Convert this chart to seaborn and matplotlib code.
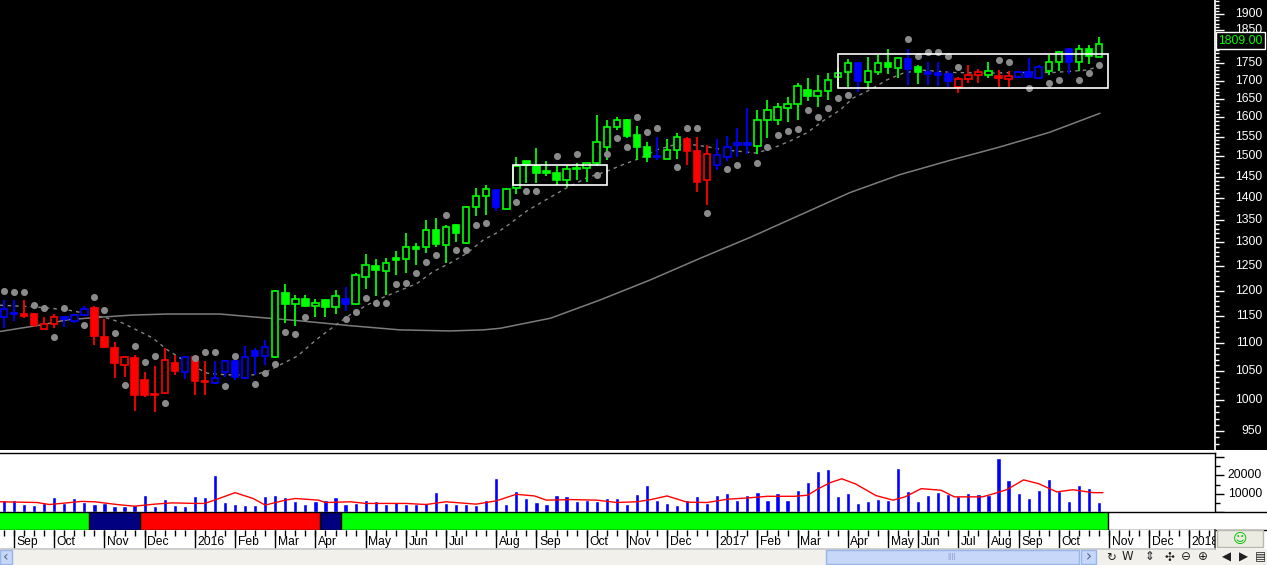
import matplotlib
matplotlib.use("Agg")
import matplotlib.pyplot as plt
import matplotlib.transforms as mtransforms
from matplotlib.patches import Rectangle
from matplotlib.ticker import FixedLocator, NullFormatter
import numpy as np
import seaborn as sns

sns.set_theme(style="white")
plt.rcParams["font.family"] = ["Liberation Sans", "DejaVu Sans"]

# weekly bars, oldest first
opens = [1149, 1154, 1155, 1154, 1125, 1135, 1148, 1141, 1152, 1165,
         1111, 1090, 1060, 1073, 1035, 1010, 1012, 1064, 1048, 1075,
         1033, 1029, 1048, 1068, 1037, 1086, 1076, 1075, 1196, 1173,
         1184, 1170, 1182, 1167, 1183, 1173, 1228, 1250, 1240, 1266,
         1264, 1290, 1289, 1327, 1295, 1339, 1299, 1379, 1403, 1419,
         1374, 1423, 1488, 1476, 1463, 1460, 1441, 1468, 1472, 1483,
         1524, 1574, 1594, 1555, 1522, 1499, 1494, 1516, 1543, 1512,
         1441, 1478, 1498, 1528, 1533, 1526, 1594, 1592, 1624, 1635,
         1675, 1659, 1673, 1710, 1725, 1751, 1696, 1725, 1751, 1736,
         1762, 1739, 1725, 1722, 1720, 1684, 1705, 1717, 1717, 1715,
         1706, 1712, 1725, 1708, 1729, 1755, 1793, 1753, 1793, 1770]
highs = [1182, 1181, 1181, 1156, 1148, 1154, 1149, 1155, 1169, 1169,
         1144, 1102, 1076, 1078, 1048, 1059, 1090, 1078, 1077, 1076,
         1067, 1068, 1069, 1069, 1095, 1091, 1106, 1201, 1213, 1192,
         1192, 1183, 1183, 1202, 1207, 1235, 1275, 1264, 1266, 1281,
         1320, 1299, 1350, 1354, 1339, 1341, 1381, 1423, 1431, 1419,
         1423, 1497, 1488, 1520, 1488, 1475, 1479, 1483, 1483, 1606,
         1594, 1601, 1597, 1577, 1537, 1548, 1543, 1560, 1548, 1548,
         1528, 1543, 1551, 1571, 1624, 1621, 1647, 1638, 1655, 1694,
         1708, 1717, 1722, 1736, 1762, 1752, 1770, 1775, 1793, 1768,
         1793, 1746, 1755, 1755, 1727, 1712, 1746, 1733, 1755, 1731,
         1727, 1727, 1765, 1746, 1775, 1788, 1793, 1805, 1805, 1830]
lows = [1127, 1140, 1146, 1130, 1125, 1127, 1130, 1137, 1150, 1096,
        1090, 1038, 1040, 982, 1006, 981, 1010, 1043, 1036, 1009,
        1009, 1027, 1040, 1035, 1036, 1043, 1061, 1073, 1137, 1132,
        1167, 1149, 1149, 1155, 1160, 1171, 1204, 1190, 1192, 1231,
        1235, 1252, 1277, 1290, 1256, 1301, 1297, 1358, 1361, 1370,
        1371, 1409, 1435, 1435, 1451, 1431, 1426, 1443, 1436, 1476,
        1490, 1567, 1545, 1491, 1486, 1491, 1494, 1494, 1479, 1413,
        1383, 1467, 1489, 1497, 1506, 1506, 1545, 1580, 1588, 1594,
        1643, 1627, 1647, 1680, 1684, 1668, 1677, 1717, 1719, 1708,
        1689, 1691, 1689, 1686, 1684, 1666, 1695, 1695, 1708, 1684,
        1683, 1711, 1708, 1708, 1717, 1727, 1720, 1727, 1749, 1768]
closes = [1163, 1155, 1151, 1134, 1135, 1148, 1144, 1152, 1163, 1112,
          1092, 1064, 1075, 1008, 1009, 1008, 1069, 1049, 1074, 1032,
          1030, 1037, 1068, 1039, 1074, 1077, 1092, 1199, 1173, 1184,
          1170, 1176, 1168, 1190, 1174, 1231, 1252, 1242, 1256, 1262,
          1289, 1286, 1327, 1297, 1333, 1321, 1379, 1403, 1421, 1379,
          1421, 1476, 1479, 1460, 1459, 1443, 1469, 1470, 1483, 1535,
          1574, 1594, 1552, 1524, 1498, 1497, 1516, 1548, 1514, 1437,
          1506, 1504, 1524, 1533, 1528, 1594, 1621, 1627, 1635, 1686,
          1659, 1672, 1703, 1722, 1751, 1701, 1727, 1752, 1739, 1765,
          1733, 1725, 1720, 1717, 1701, 1705, 1717, 1724, 1729, 1708,
          1714, 1725, 1711, 1739, 1755, 1783, 1753, 1793, 1773, 1809]
# g = up trend, r = down trend, b = neutral
candle_trend = ("bbrrrrbbbr" "rrrrrrrrbr" "rbbbbbbggg" "ggggbggggg" "gggggggggb"
                "gggggggggg" "gggggbggrr" "rbbbbggggg" "gggggbgggg" "bgbbbrrrgr"
                "rbbbggbggg")

nan = np.nan
sar = [1200, 1198, 1198, 1171, 1166, 1111, 1166, nan, 1133, 1187,
       1162, 1119, 1026, 1095, 1065, 1076, 995, nan, nan, 1072,
       1084, 1084, 1024, 1076, nan, 1027, 1046, 1062, 1120, 1117,
       1149, nan, nan, nan, 1144, 1157, 1186, 1175, 1176, 1214,
       1216, 1235, 1258, 1273, 1360, 1283, 1283, 1338, 1343, nan,
       nan, 1390, 1416, 1416, nan, 1501, nan, 1506, nan, 1454,
       1505, 1545, 1522, 1601, 1562, 1573, nan, 1473, 1573, 1573,
       1365, nan, 1468, 1478, nan, 1483, 1522, 1555, 1563, 1570,
       1619, 1602, 1624, 1652, 1661, nan, nan, nan, nan, nan,
       1822, 1773, 1785, 1785, 1773, 1741, nan, nan, nan, 1759,
       1754, nan, 1680, nan, 1694, 1703, nan, 1703, 1722, 1746]

# short moving average (dashed), read at points along the line
fast_ma_x = [-0.4, 2.9, 6.3, 7.9, 10.3, 11.8, 13.5, 14.8, 16.2, 17.5, 18.8, 20.2, 22.2, 24.8,
             26.2, 28.2, 29.2, 31.1, 32.8, 34.4, 36.1, 37.8, 39.4, 41.1, 42.7, 44.4, 46.1,
             47.7, 49.0, 50.0, 52.0, 54.0, 56.0, 58.0, 60.0, 61.6, 63.3, 65.0, 66.6, 68.3,
             70.0, 71.6, 73.3, 74.9, 76.6, 78.2, 79.9, 81.6, 83.2, 84.5, 86.2, 87.9, 89.5,
             91.2, 94.5, 97.8, 101.1, 104.5, 107.8, 109.0]
fast_ma_y = [1171, 1168, 1162, 1156, 1146, 1137, 1121, 1109, 1088, 1073, 1059, 1046, 1043, 1043,
             1049, 1067, 1076, 1106, 1130, 1152, 1171, 1187, 1200, 1214, 1238, 1256, 1277,
             1305, 1320, 1335, 1369, 1396, 1423, 1447, 1463, 1479, 1495, 1516, 1528, 1530,
             1524, 1516, 1512, 1508, 1521, 1538, 1559, 1592, 1619, 1652, 1675, 1703, 1722,
             1731, 1724, 1722, 1724, 1724, 1731, 1741]

# long moving average (solid grey)
slow_ma_x = [-0.4, 1.6, 3.6, 6.3, 9.6, 12.8, 16.2, 21.5, 24.5, 29.5, 34.4, 39.4, 44.4, 47.7,
             49.4, 54.4, 59.3, 64.3, 69.3, 74.3, 79.2, 84.2, 89.2, 94.2, 99.1, 104.1, 109.1]
slow_ma_y = [1121, 1127, 1133, 1143, 1148, 1152, 1154, 1154, 1149, 1141, 1132, 1124, 1122, 1124,
             1127, 1146, 1181, 1221, 1266, 1311, 1360, 1412, 1455, 1490, 1523, 1561, 1611]

volume = [6500, 6500, 4300, 3800, 5000, 8100, 4700, 7600, 5600, 4300,
          4700, 3200, 3200, 3800, 9200, 3200, 7000, 3800, 3200, 8600,
          8100, 20500, 5400, 4300, 3800, 3800, 8600, 9400, 8100, 5900,
          4300, 5900, 6500, 8100, 4300, 5000, 6500, 5900, 4300, 5400,
          4300, 4300, 5000, 10800, 4700, 4300, 4300, 3800, 6500, 18400,
          4300, 11500, 7600, 5400, 4300, 9200, 8600, 5900, 6500, 5900,
          7400, 7600, 4300, 9700, 14600, 6800, 5200, 4100, 6500, 8600,
          4700, 9500, 10300, 6800, 9200, 10800, 6800, 10300, 6800, 11900,
          16400, 22300, 23600, 8600, 10300, 5200, 5900, 7000, 6800, 24100,
          11300, 5900, 9500, 10800, 9700, 8500, 10400, 9700, 9200, 29500,
          17600, 10300, 7400, 12200, 18200, 11300, 5900, 14600, 13300, 5400]

vol_ma_x = [-0.4, 3.3, 4.5, 5.7, 7.7, 9, 11.4, 13, 15, 16.7, 19, 20, 21.1, 23, 24.8, 26, 28,
            29, 31.3, 32, 34.5, 36, 40, 42, 44, 47, 49, 51, 52.8, 54, 56.5, 59, 61, 63, 64.4,
            66, 68, 70, 72, 74, 76, 78.7, 80, 81, 82.3, 83.4, 84.8, 86.8, 88.5, 89.7, 91.3,
            93.3, 94.6, 97.4, 98.2, 99.8, 101.5, 103, 104.8, 106.4, 108.4, 109.4]
vol_ma_y = [5600, 5200, 4100, 4700, 5800, 5600, 4000, 3200, 4300, 5000, 4700, 4700, 6800, 10600,
            7400, 3800, 6500, 7400, 6500, 5200, 5600, 4700, 4700, 4100, 5600, 4300, 6100, 9700,
            8800, 6500, 6800, 6500, 5200, 5600, 6800, 8800, 5400, 5200, 7000, 7700, 8600, 8600,
            9200, 12600, 16200, 18200, 15300, 9000, 6500, 8300, 12800, 11900, 8300, 8300, 9500,
            12200, 17600, 15500, 11000, 12200, 10600, 10600]

# trend strip under the volume panel
strip_edges = [-0.5, 8.5, 13.5, 31.5, 33.5, 109.9]
strip_colors = ["#00ff00", "#000080", "#ff0000", "#000080", "#00ff00"]

month_pos = [1, 5, 10, 14, 19, 23, 27, 31, 36, 40, 44, 49, 53, 58, 62, 66, 71, 75, 79,
             84, 88, 91, 95, 98, 101, 105, 110, 114, 118]
month_labels = ["Sep", "Oct", "Nov", "Dec", "2016", "Feb", "Mar", "Apr", "May", "Jun",
                "Jul", "Aug", "Sep", "Oct", "Nov", "Dec", "2017", "Feb", "Mar", "Apr",
                "May", "Jun", "Jul", "Aug", "Sep", "Oct", "Nov", "Dec", "2018"]

price_ticks = list(range(950, 1901, 50))
hidden_ticks = [1800]          # covered by the last-price marker
last_price = 1809.00
boxes = [(50.7, 60.0, 1429, 1479), (83.0, 109.9, 1680, 1778)]

W, H = 1267, 565
GREEN, RED, BLUE = "#00ff00", "#ff0000", "#0000ff"
TREND_COL = {"g": GREEN, "r": RED, "b": BLUE}
FS = 8.7


def px_box(x0, y0, x1, y1):
    return [x0 / W, 1 - y1 / H, (x1 - x0) / W, (y1 - y0) / H]


def fig_rect(fig, x0, y0, x1, y1, **kw):
    fig.add_artist(Rectangle((x0 / W, 1 - y1 / H), (x1 - x0) / W, (y1 - y0) / H,
                             transform=fig.transFigure, **kw))


fig = plt.figure(figsize=(W / 100, H / 100), dpi=100, facecolor="white")
fig_rect(fig, 0, 0, W, 450, facecolor="black", edgecolor="none", zorder=-10)

xs = np.arange(len(opens))
xlim = (-0.4, 120.55)

# ---- price panel
ax = fig.add_axes(px_box(0, 0, 1215, 450))
ax.set_facecolor("black")
ax.set_yscale("log")

cols = [TREND_COL[t] for t in candle_trend]
o = np.array(opens, dtype=float)
c = np.array(closes, dtype=float)
body_lo = np.minimum(o, c)
body_hi = np.maximum(np.maximum(o, c), body_lo * 1.002)
face = [cols[i] if c[i] < o[i] else "black" for i in xs]

sns.lineplot(x=slow_ma_x, y=slow_ma_y, ax=ax, color="#7c7c7c", linewidth=1.1, zorder=1)
sns.lineplot(x=fast_ma_x, y=fast_ma_y, ax=ax, color="#858585", linewidth=1.0,
             linestyle=(0, (2.5, 3)), zorder=2)
ax.vlines(xs, lows, highs, colors=cols, linewidth=1.3, zorder=3)
ax.bar(xs, body_hi - body_lo, bottom=body_lo, width=0.64, color=face, edgecolor=cols,
       linewidth=1.2, zorder=4)
sns.scatterplot(x=xs, y=sar, ax=ax, color="#8a8a8a", s=26, linewidth=0, zorder=5)
for x0, x1, lo, hi in boxes:
    ax.add_patch(Rectangle((x0, lo), x1 - x0, hi - lo, fill=False, edgecolor="white",
                           linewidth=1.2, zorder=6))

ax.set_xlim(*xlim)
ax.set_ylim(920.6, 1944.7)
ax.set_xticks([])
ax.yaxis.tick_right()
ax.yaxis.set_major_locator(FixedLocator(price_ticks))
ax.yaxis.set_minor_locator(FixedLocator(np.arange(930, 1941, 10)))
ax.yaxis.set_minor_formatter(NullFormatter())
ax.tick_params(axis="y", which="major", colors="white", length=6.5, width=1,
               labelright=False, direction="out")
ax.tick_params(axis="y", which="minor", colors="white", length=3, width=1, direction="out")
for s in ["left", "top", "bottom"]:
    ax.spines[s].set_visible(False)
ax.spines["right"].set_color("white")
ax.set_xlabel("")
ax.set_ylabel("")
lab_tr = mtransforms.blended_transform_factory(ax.transAxes, ax.transData)
for v in price_ticks:
    if v in hidden_ticks:
        continue
    ax.text(1262 / 1215, v, f"{v}", transform=lab_tr, ha="right", va="center",
            color="white", fontsize=FS, clip_on=False)
fig.text(1240.5 / W, 1 - 40.5 / H, f"{last_price:.2f}", color=GREEN, fontsize=FS,
         ha="center", va="center", zorder=10,
         bbox=dict(boxstyle="square,pad=0.22", facecolor="black", edgecolor="white",
                   linewidth=1))

# ---- volume panel
axv = fig.add_axes(px_box(0, 452.5, 1215, 512))
axv.set_facecolor("white")
axv.bar(xs, volume, width=0.42, color=BLUE, zorder=2)
sns.lineplot(x=vol_ma_x, y=vol_ma_y, ax=axv, color=RED, linewidth=1.0, zorder=3)
axv.set_xlim(*xlim)
axv.set_ylim(0, 32600)
axv.set_xticks([])
axv.yaxis.tick_right()
axv.set_yticks([0, 10000, 20000, 30000])
axv.set_yticks([5000, 15000, 25000], minor=True)
axv.tick_params(axis="y", which="major", colors="black", length=6.5, width=1,
                labelright=False)
axv.tick_params(axis="y", which="minor", colors="black", length=3.5, width=1)
for s in ["left", "bottom"]:
    axv.spines[s].set_visible(False)
for s in ["top", "right"]:
    axv.spines[s].set_color("black")
    axv.spines[s].set_linewidth(1)
axv.set_xlabel("")
axv.set_ylabel("")
vtr = mtransforms.blended_transform_factory(axv.transAxes, axv.transData)
for v in [10000, 20000]:
    axv.text(1262 / 1215, v, f"{v}", transform=vtr, ha="right", va="center",
             color="black", fontsize=FS, clip_on=False)

# ---- trend strip
axs = fig.add_axes(px_box(0, 512, W, 530))
axs.set_facecolor("white")
for a, b, col in zip(strip_edges[:-1], strip_edges[1:], strip_colors):
    axs.axvspan(a, b, color=col, lw=0)
axs.vlines(strip_edges[1:], 0, 1, colors="black", linewidth=1)
axs.set_xlim(xlim[0], xlim[0] + (xlim[1] - xlim[0]) * W / 1215)
axs.set_ylim(0, 1)
axs.set_xticks([])
axs.set_yticks([])
for s in ["left", "right"]:
    axs.spines[s].set_visible(False)
for s in ["top", "bottom"]:
    axs.spines[s].set_color("black")
    axs.spines[s].set_linewidth(1)

# ---- date axis
axd = fig.add_axes(px_box(0, 530, 1215, 549))
axd.set_facecolor("white")
axd.set_xlim(*xlim)
axd.set_ylim(0, 1)
axd.vlines(np.arange(0, 121), 0.68, 1, colors="black", linewidth=1)
axd.vlines(month_pos, 0, 1, colors="black", linewidth=1)
for p, lab in zip(month_pos, month_labels):
    axd.text(p + 0.25, 0.36, lab, ha="left", va="center", fontsize=FS, color="black",
             clip_on=True)
axd.set_xticks([])
axd.set_yticks([])
for s in ["left", "top"]:
    axd.spines[s].set_visible(False)
axd.spines["bottom"].set_color("#c8c8c8")
axd.spines["right"].set_color("#404040")

# ---- window chrome
fig_rect(fig, 1217, 530, 1263, 547, facecolor="#ecebe2", edgecolor="#b8b8b0", linewidth=1)
fig.text(1240 / W, 1 - 538.5 / H, "\u263a", color="#00c000", fontsize=10, ha="center",
         va="center", family="DejaVu Sans")
fig_rect(fig, 0, 549, W, 565, facecolor="#f1f0ea", edgecolor="none", zorder=-5)
fig_rect(fig, 0, 550, 12, 564, facecolor="#c6d7f9", edgecolor="#98b4e8", linewidth=1)
fig.text(6 / W, 1 - 557 / H, "\u2039", fontsize=10, ha="center", va="center",
         color="#4d6185", family="DejaVu Sans")
fig_rect(fig, 826, 550, 1079, 564, facecolor="#c6d7f9", edgecolor="#98b4e8", linewidth=1)
fig.text(952 / W, 1 - 557 / H, "||||", fontsize=6, ha="center", va="center",
         color="#7f97c8")
fig_rect(fig, 1081, 550, 1096, 564, facecolor="#c6d7f9", edgecolor="#98b4e8", linewidth=1)
fig.text(1088.5 / W, 1 - 557 / H, "\u203a", fontsize=11, ha="center", va="center",
         color="#4d6185", family="DejaVu Sans")
icons = [(1111, "\u21bb"), (1127, "W"), (1150, "\u21d5"), (1169, "\u2723"),
         (1186, "\u2296"), (1203, "\u2295"), (1226, "\u25c0"), (1243, "\u25b6"),
         (1260, "\u25a4")]
for px, glyph in icons:
    fig.text(px / W, 1 - 557 / H, glyph, fontsize=8.5, ha="center", va="center",
             color="#202020", family="DejaVu Sans")

fig.savefig("out.png", dpi=100, facecolor=fig.get_facecolor())
